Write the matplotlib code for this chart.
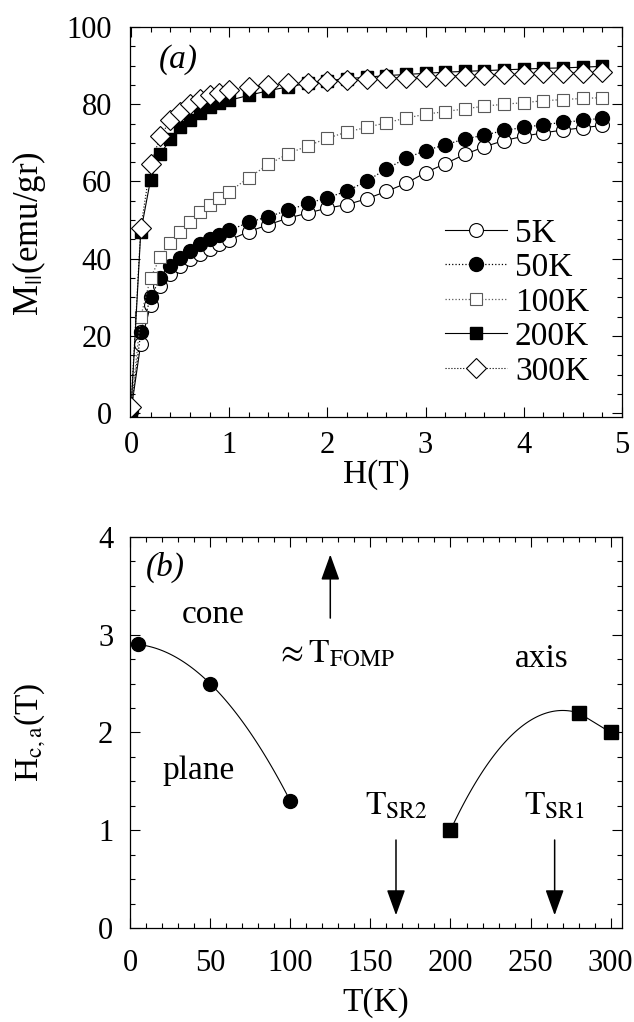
import matplotlib.pyplot as plt
import numpy as np
from matplotlib.ticker import MultipleLocator

plt.rcParams['font.family'] = ['Liberation Serif', 'DejaVu Serif']
plt.rcParams['mathtext.fontset'] = 'stix'
plt.rcParams['font.size'] = 22

# ---- panel (a): magnetisation vs field ----
H = [0, 0.1, 0.2, 0.3, 0.4, 0.5, 0.6, 0.7, 0.8, 0.9, 1.0,
     1.2, 1.4, 1.6, 1.8, 2.0, 2.2, 2.4, 2.6, 2.8, 3.0,
     3.2, 3.4, 3.6, 3.8, 4.0, 4.2, 4.4, 4.6, 4.8]

m_5K = [0.5, 18, 28, 33, 36, 38, 39.8, 41.2, 42.5, 43.7, 44.8,
        47.0, 48.8, 50.5, 51.8, 53.1, 54.0, 55.5, 57.4, 59.5, 62.3,
        64.6, 67.0, 69.0, 70.6, 71.7, 72.6, 73.3, 73.9, 74.5]
m_50K = [0.5, 21, 30, 35, 38, 40.3, 42, 43.7, 45, 46.2, 47.3,
         49.4, 50.9, 52.5, 54.3, 55.8, 57.5, 60.1, 63.2, 66.0, 68.0,
         69.5, 71.0, 72.0, 73.2, 74.0, 74.7, 75.3, 75.8, 76.4]
m_100K = [1.0, 25, 35, 40.5, 44, 47, 49.5, 52, 54, 55.8, 57.3,
          61.0, 64.4, 67.2, 69.2, 71.2, 72.8, 74.0, 75.2, 76.4, 77.4,
          78.1, 78.8, 79.5, 80.0, 80.4, 80.9, 81.2, 81.5, 81.7]
m_200K = [0.5, 47, 60.5, 67, 71, 74, 76, 77.8, 79.2, 80.2, 81.0,
          82.3, 83.5, 84.5, 85.4, 86.1, 86.6, 87.0, 87.4, 87.7, 88.0,
          88.3, 88.5, 88.7, 88.9, 89.1, 89.3, 89.4, 89.6, 89.8]
m_300K = [1.5, 48, 64.5, 71.7, 75.8, 78, 80, 81.3, 82.3, 83.0, 83.6,
          84.4, 85.0, 85.4, 85.6, 86.0, 86.2, 86.5, 86.7, 86.9, 87.1,
          87.3, 87.4, 87.6, 87.7, 87.8, 88.0, 88.1, 88.2, 88.3]

# ---- panel (b): critical field vs temperature ----
T_cone = [5, 50, 100]
Hc_cone = [2.9, 2.5, 1.3]
T_axis = [200, 280, 300]
Hc_axis = [1.0, 2.2, 2.0]

T_fomp = 125
T_sr2 = 166
T_sr1 = 265

fig = plt.figure(figsize=(6.34, 10.22), dpi=100)
ax1 = fig.add_axes([0.205, 0.592, 0.776, 0.3816])
ax2 = fig.add_axes([0.205, 0.092, 0.776, 0.3826])

# panel (a)
ax1.plot(H, m_5K, '-', color='k', lw=0.8, marker='o', ms=10,
         mfc='white', mec='k', mew=0.8, label='5K')
ax1.plot(H, m_50K, ':', color='k', lw=0.9, marker='o', ms=10,
         mfc='k', mec='k', label='50K')
ax1.plot(H, m_100K, ':', color='0.35', lw=0.9, marker='s', ms=9,
         mfc='white', mec='0.35', mew=0.8, label='100K')
ax1.plot(H, m_200K, '-', color='k', lw=0.8, marker='s', ms=9,
         mfc='k', mec='k', label='200K')
ax1.plot(H, m_300K, ':', color='k', lw=0.8, marker='D', ms=10.5,
         mfc='white', mec='k', mew=0.8, label='300K')

ax1.set_xlim(-0.01, 5)
ax1.set_ylim(-1, 100)
ax1.xaxis.set_major_locator(MultipleLocator(1))
ax1.xaxis.set_minor_locator(MultipleLocator(0.2))
ax1.yaxis.set_major_locator(MultipleLocator(20))
ax1.yaxis.set_minor_locator(MultipleLocator(5))
ax1.set_xlabel('H(T)', fontsize=24)
ax1.set_ylabel(r'M$_{||}$(emu/gr)', fontsize=25)
ax1.xaxis.set_label_coords(0.5, -0.108)
ax1.yaxis.set_label_coords(-0.167, 0.47)
ax1.text(0.48, 91.5, '(a)', style='italic', ha='center', va='center', fontsize=24)
ax1.legend(loc='upper left', bbox_to_anchor=(0.64, 0.51), frameon=False,
           fontsize=24, handlelength=1.86, handletextpad=0.24,
           labelspacing=0.12, borderpad=0, borderaxespad=0)

# panel (b)
p1 = np.polyfit(T_cone, Hc_cone, 2)
tt1 = np.linspace(T_cone[0], T_cone[-1], 100)
ax2.plot(tt1, np.polyval(p1, tt1), '-', color='k', lw=0.8)
ax2.plot(T_cone, Hc_cone, 'o', color='k', ms=10)

p2 = np.polyfit(T_axis, Hc_axis, 2)
tt2 = np.linspace(T_axis[0], T_axis[1], 100)
ax2.plot(tt2, np.polyval(p2, tt2), '-', color='k', lw=0.8)
ax2.plot(T_axis[1:], Hc_axis[1:], '-', color='k', lw=0.8)
ax2.plot(T_axis, Hc_axis, 's', color='k', ms=10.5)

arrow = dict(arrowstyle='-|>,head_length=0.72,head_width=0.26',
             color='k', lw=1.1, mutation_scale=22, shrinkA=0, shrinkB=0)
ax2.annotate('', xy=(T_fomp, 3.82), xytext=(T_fomp, 3.17), arrowprops=arrow)
ax2.annotate('', xy=(T_sr2, 0.13), xytext=(T_sr2, 0.9), arrowprops=arrow)
ax2.annotate('', xy=(T_sr1, 0.13), xytext=(T_sr1, 0.9), arrowprops=arrow)

ax2.text(128, 2.8, r'$\approx\mathrm{T}_{\mathrm{FOMP}}$', ha='center', va='center', fontsize=24)
ax2.text(T_sr2, 1.25, r'$\mathrm{T}_{\mathrm{SR2}}$', ha='center', va='center', fontsize=24)
ax2.text(T_sr1, 1.25, r'$\mathrm{T}_{\mathrm{SR1}}$', ha='center', va='center', fontsize=24)
ax2.text(52, 3.2, 'cone', ha='center', va='center', fontsize=24)
ax2.text(43, 1.61, 'plane', ha='center', va='center', fontsize=24)
ax2.text(257, 2.75, 'axis', ha='center', va='center', fontsize=24)
ax2.text(22, 3.69, '(b)', style='italic', ha='center', va='center', fontsize=24)

ax2.set_xlim(0, 307)
ax2.set_ylim(0, 4)
ax2.xaxis.set_major_locator(MultipleLocator(50))
ax2.xaxis.set_minor_locator(MultipleLocator(10))
ax2.yaxis.set_major_locator(MultipleLocator(1))
ax2.yaxis.set_minor_locator(MultipleLocator(0.25))
ax2.set_xlabel('T(K)', fontsize=24)
ax2.set_ylabel(r'H$_{\mathrm{c,a}}$(T)', fontsize=24)
ax2.xaxis.set_label_coords(0.5, -0.151)
ax2.yaxis.set_label_coords(-0.167, 0.5)

for ax in (ax1, ax2):
    ax.tick_params(which='both', direction='in', top=True, right=True, width=0.8)
    ax.tick_params(which='major', length=7)
    ax.tick_params(which='minor', length=3.5)
    for s in ax.spines.values():
        s.set_linewidth(0.9)
ax1.tick_params(axis='x', pad=10)
ax2.tick_params(axis='x', pad=15)
ax1.tick_params(axis='y', pad=13)
ax2.tick_params(axis='y', pad=12)

fig.savefig('out.png', dpi=100)
